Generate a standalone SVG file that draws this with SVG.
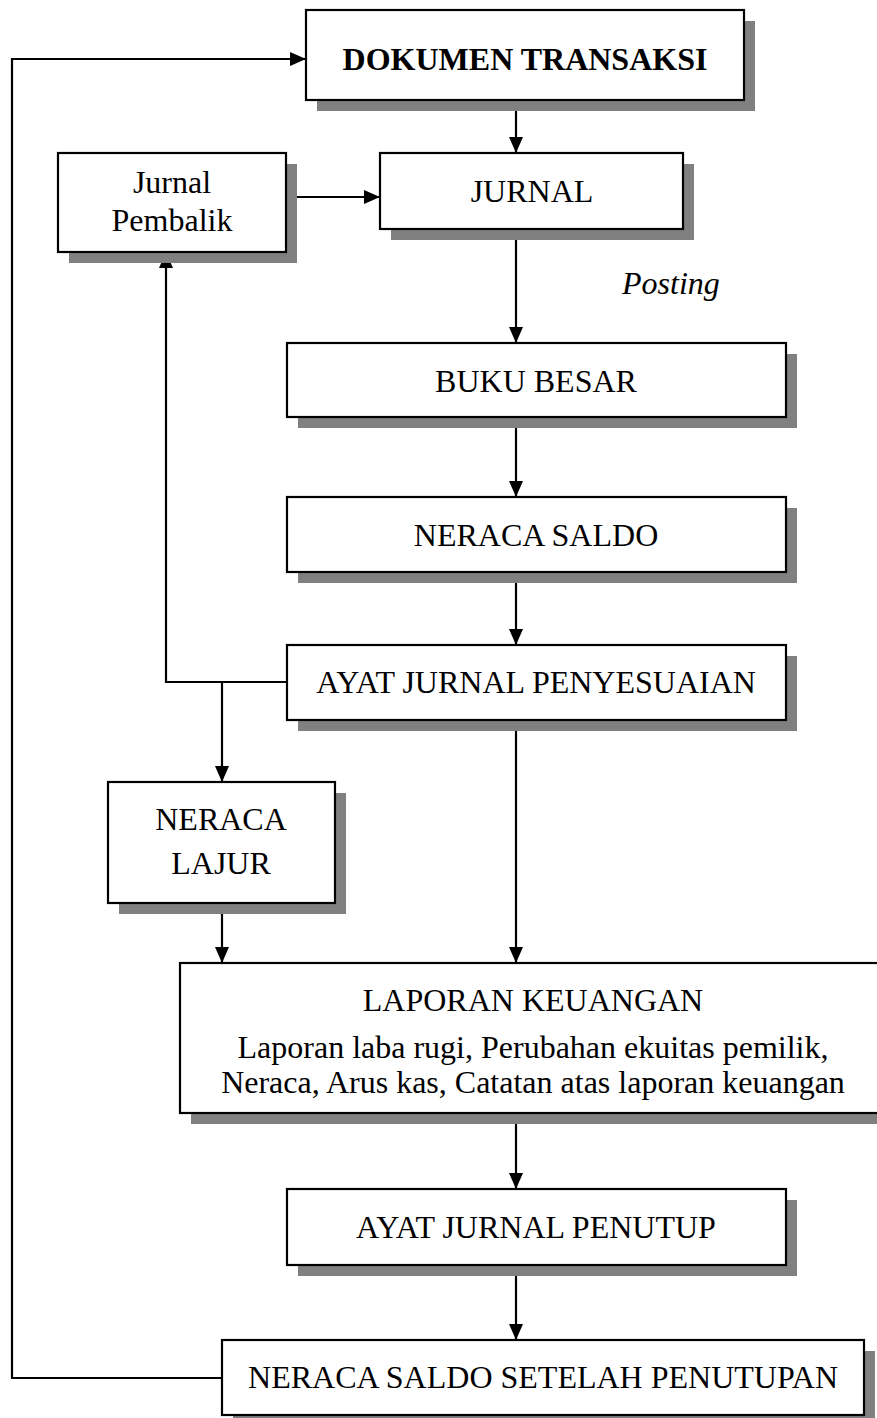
<svg xmlns="http://www.w3.org/2000/svg" width="877" height="1418" viewBox="0 0 877 1418">
  <style>
    .box { fill: #ffffff; stroke: #000000; stroke-width: 2.2; }
    .shadow { fill: #808080; }
    .label { font-family: "Liberation Serif", "Times New Roman", serif; font-size: 32px; fill: #000000; text-anchor: middle; }
    .bold { font-weight: bold; }
    .italic { font-style: italic; text-anchor: start; }
    .link { fill: none; stroke: #000000; stroke-width: 2.2; }
  </style>
  <defs>
    <marker id="arrow" markerUnits="userSpaceOnUse" markerWidth="16" markerHeight="14" refX="16" refY="7" orient="auto">
      <path d="M0,0 L16,7 L0,14 Z" fill="#000000"/>
    </marker>
  </defs>
  <rect width="877" height="1418" fill="#ffffff"/>

  <!-- connectors -->
  <g id="connectors">
    <!-- loop back from closing trial balance to transaction documents -->
    <polyline class="link" points="222,1378 12,1378 12,59 306,59" marker-end="url(#arrow)"/>
    <line class="link" x1="516" y1="100" x2="516" y2="153" marker-end="url(#arrow)"/>
    <line class="link" x1="286" y1="197" x2="380" y2="197" marker-end="url(#arrow)"/>
    <line class="link" x1="516" y1="229" x2="516" y2="343" marker-end="url(#arrow)"/>
    <line class="link" x1="516" y1="417" x2="516" y2="497" marker-end="url(#arrow)"/>
    <line class="link" x1="516" y1="572" x2="516" y2="645" marker-end="url(#arrow)"/>
    <polyline class="link" points="287,682 166,682 166,252" marker-end="url(#arrow)"/>
    <line class="link" x1="222" y1="682" x2="222" y2="782" marker-end="url(#arrow)"/>
    <line class="link" x1="222" y1="903" x2="222" y2="963" marker-end="url(#arrow)"/>
    <line class="link" x1="516" y1="720" x2="516" y2="963" marker-end="url(#arrow)"/>
    <line class="link" x1="516" y1="1113" x2="516" y2="1189" marker-end="url(#arrow)"/>
    <line class="link" x1="516" y1="1265" x2="516" y2="1340" marker-end="url(#arrow)"/>
    <text class="label italic" x="622" y="294">Posting</text>
  </g>

  <g id="dokumen-transaksi">
    <rect class="shadow" x="317" y="21" width="438" height="90"/>
    <rect class="box" x="306" y="10" width="438" height="90"/>
    <text class="label bold" x="525" y="70">DOKUMEN TRANSAKSI</text>
  </g>

  <g id="jurnal-pembalik">
    <rect class="shadow" x="69" y="164" width="228" height="99"/>
    <rect class="box" x="58" y="153" width="228" height="99"/>
    <text class="label" x="172" y="193">Jurnal</text>
    <text class="label" x="172" y="231">Pembalik</text>
  </g>

  <g id="jurnal">
    <rect class="shadow" x="391" y="164" width="303" height="76"/>
    <rect class="box" x="380" y="153" width="303" height="76"/>
    <text class="label" x="532" y="202">JURNAL</text>
  </g>

  <g id="buku-besar">
    <rect class="shadow" x="298" y="354" width="499" height="74"/>
    <rect class="box" x="287" y="343" width="499" height="74"/>
    <text class="label" x="536" y="392">BUKU BESAR</text>
  </g>

  <g id="neraca-saldo">
    <rect class="shadow" x="298" y="508" width="499" height="75"/>
    <rect class="box" x="287" y="497" width="499" height="75"/>
    <text class="label" x="536" y="546">NERACA SALDO</text>
  </g>

  <g id="ayat-jurnal-penyesuaian">
    <rect class="shadow" x="298" y="656" width="499" height="75"/>
    <rect class="box" x="287" y="645" width="499" height="75"/>
    <text class="label" x="536" y="693">AYAT JURNAL PENYESUAIAN</text>
  </g>

  <g id="neraca-lajur">
    <rect class="shadow" x="119" y="793" width="227" height="121"/>
    <rect class="box" x="108" y="782" width="227" height="121"/>
    <text class="label" x="221" y="830">NERACA</text>
    <text class="label" x="221" y="874">LAJUR</text>
  </g>

  <g id="laporan-keuangan">
    <rect class="shadow" x="191" y="974" width="700" height="150"/>
    <rect class="box" x="180" y="963" width="700" height="150"/>
    <text class="label" x="533" y="1011">LAPORAN KEUANGAN</text>
    <text class="label" x="533" y="1058">Laporan laba rugi, Perubahan ekuitas pemilik,</text>
    <text class="label" x="533" y="1093">Neraca, Arus kas, Catatan atas laporan keuangan</text>
  </g>

  <g id="ayat-jurnal-penutup">
    <rect class="shadow" x="298" y="1200" width="499" height="76"/>
    <rect class="box" x="287" y="1189" width="499" height="76"/>
    <text class="label" x="536" y="1238">AYAT JURNAL PENUTUP</text>
  </g>

  <g id="neraca-saldo-setelah-penutupan">
    <rect class="shadow" x="233" y="1351" width="642" height="75"/>
    <rect class="box" x="222" y="1340" width="642" height="75"/>
    <text class="label" x="543" y="1388">NERACA SALDO SETELAH PENUTUPAN</text>
  </g>
</svg>
